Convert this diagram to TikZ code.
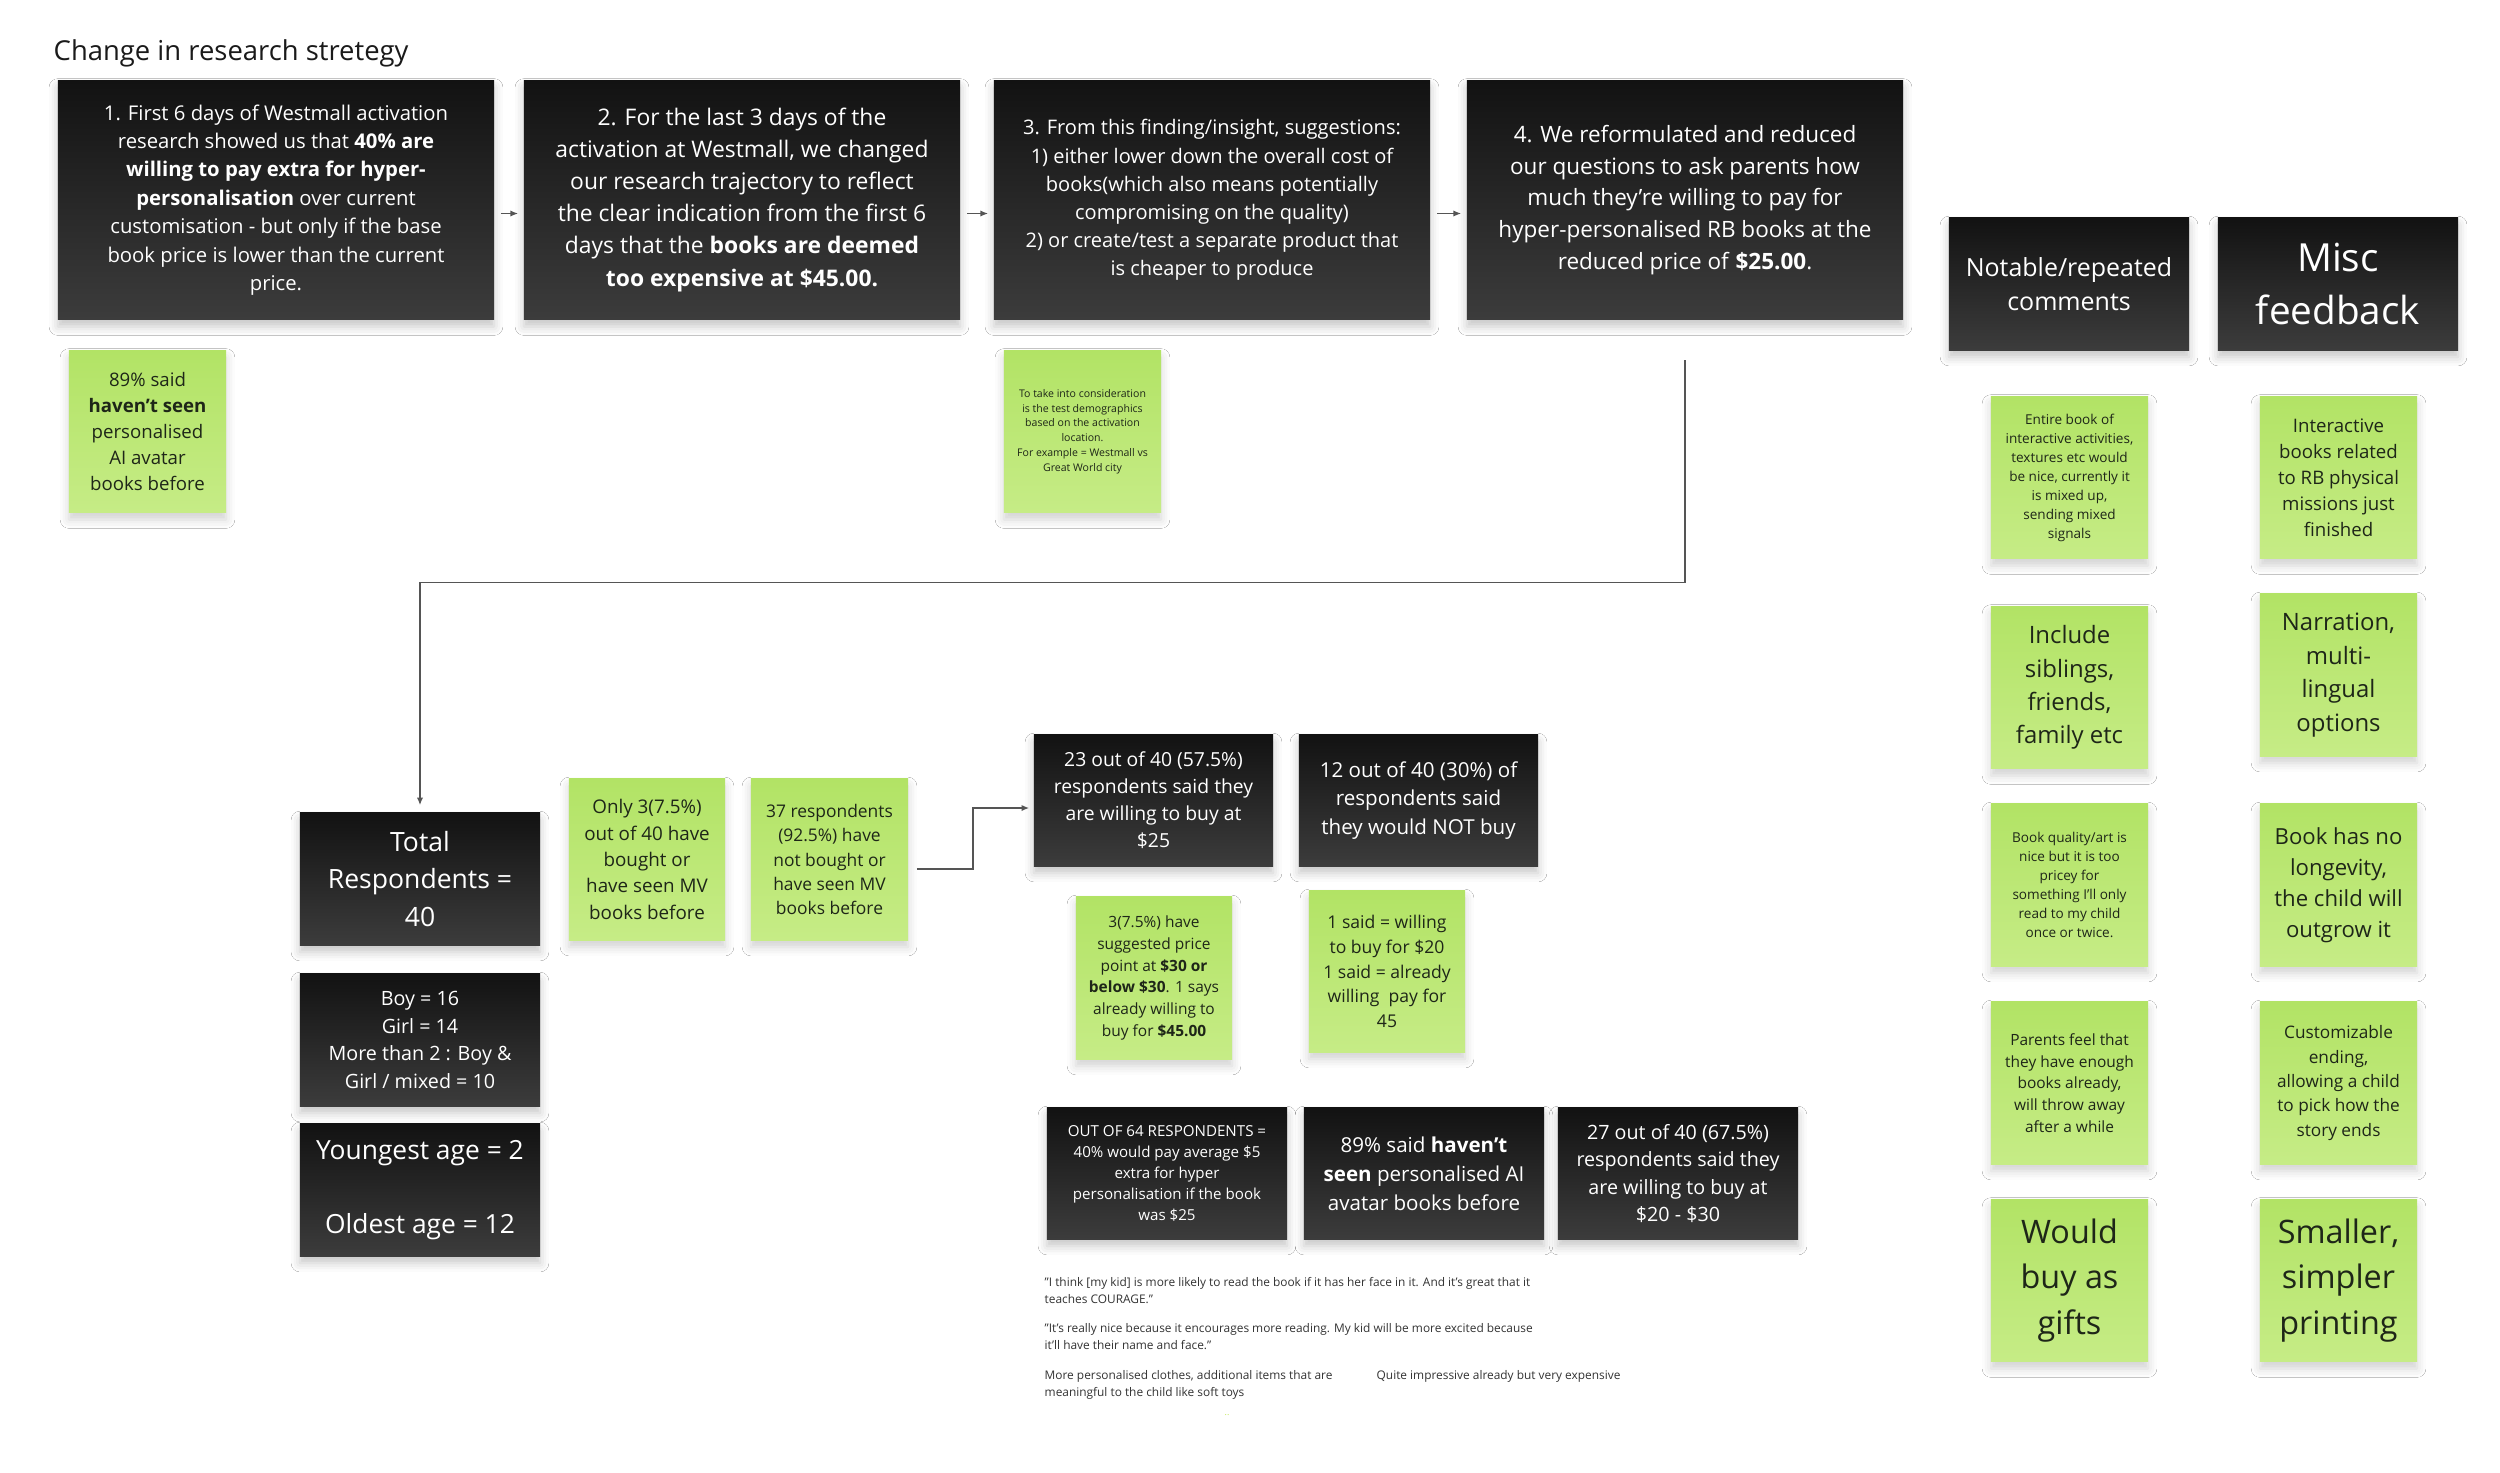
\documentclass[tikz,border=0pt]{standalone}
\usepackage{fontspec}
\setmainfont{Open Sans}
\usepackage{tikz}
\usetikzlibrary{arrows.meta, positioning, calc, shadows.blur}
\definecolor{mdarktop}{HTML}{121212}
\definecolor{mdarkbot}{HTML}{3C3C3C}
\definecolor{mstickytop}{HTML}{B2E365}
\definecolor{mstickybot}{HTML}{C6EC86}
\definecolor{mink}{HTML}{1E2618}
\definecolor{mline}{HTML}{555555}
\definecolor{mquote}{HTML}{333333}
\definecolor{mtitle}{HTML}{1A1A1A}
\newcommand{\txtsz}[2]{\fontsize{#1}{#2}\selectfont}
\tikzset{
  darkbox/.style={top color=mdarktop, bottom color=mdarkbot, text=white, align=center,
                  inner sep=0pt, blur shadow={shadow xshift=0pt, shadow yshift=-2pt,
                  shadow blur radius=2.5pt, shadow opacity=22}},
  widebox/.style={darkbox, minimum width=4.36cm, minimum height=2.39cm},
  smallbox/.style={darkbox, minimum width=2.40cm, minimum height=1.31cm},
  sticky/.style={top color=mstickytop, bottom color=mstickybot, text=mink, align=center,
                 inner sep=0pt, minimum width=1.57cm, minimum height=1.62cm,
                 blur shadow={shadow xshift=0pt, shadow yshift=-2pt,
                 shadow blur radius=2.5pt, shadow opacity=18}},
  conn/.style={->, mline, line width=0.45pt},
  quotetxt/.style={anchor=north west, align=left, text=mquote, inner sep=0pt,
                   font=\txtsz{3.38}{4.8}},
}

\begin{document}
\begin{tikzpicture}[x=0.01cm, y=-0.01cm, >={Latex[length=2.2pt, width=1.8pt]}]
  \useasboundingbox[fill=white] (0,0) rectangle (2500,1473);

  %% ── title ──
  \node[anchor=base west, inner sep=0pt, text=mtitle, font=\txtsz{7.8}{9.4}] (title)
    at (53,61) {Change in research stretegy};

  %% ── strategy steps ──
  \node[widebox, font=\txtsz{5.77}{8.08}] (s1) at (276,200)
    {1. First 6 days of Westmall activation\\research showed us that \textbf{40\% are}\\
     \textbf{willing to pay extra for hyper-}\\\textbf{personalisation} over current\\
     customisation - but only if the base\\book price is lower than the current\\price.};
  \node[widebox, font=\txtsz{6.5}{9.1}] (s2) at (742,200)
    {2. For the last 3 days of the\\activation at Westmall, we changed\\
     our research trajectory to reflect\\the clear indication from the first 6\\
     days that the \textbf{books are deemed}\\\textbf{too expensive at \$45.00.}};
  \node[widebox, font=\txtsz{5.7}{8.0}] (s3) at (1212,200)
    {3. From this finding/insight, suggestions:\\1) either lower down the overall cost of\\
     books(which also means potentially\\compromising on the quality)\\
     2) or create/test a separate product that\\is cheaper to produce};
  \node[widebox, font=\txtsz{6.4}{9.0}] (s4) at (1685,200)
    {4. We reformulated and reduced\\our questions to ask parents how\\
     much they're willing to pay for\\hyper-personalised RB books at the\\
     reduced price of \textbf{\$25.00}.};
  \foreach \a/\b in {s1/s2, s2/s3, s3/s4}
    \draw[conn, shorten <=0.06cm, shorten >=0.05cm]
      ([yshift=-0.135cm]\a.east) -- ([yshift=-0.135cm]\b.west);

  %% ── notes under steps ──
  \node[sticky, font=\txtsz{5.3}{7.4}] (n1) at (147.5,431.5)
    {89\% said\\\textbf{haven't seen}\\personalised\\AI avatar\\books before};
  \node[sticky, font=\txtsz{3.0}{4.2}] (n2) at (1082.5,431.5)
    {To take into consideration\\is the test demographics\\based on the activation\\
     location.\\For example = Westmall vs\\Great World city};

  %% ── respondents ──
  \node[smallbox, minimum height=1.32cm, font=\txtsz{7.55}{10.6}] (tot) at (420,879)
    {Total\\Respondents =\\40};
  \node[smallbox, minimum height=1.32cm, font=\txtsz{5.6}{7.8}] (gen) at (420,1040)
    {Boy = 16\\Girl = 14\\More than 2 : Boy \&\\Girl / mixed = 10};
  \node[smallbox, minimum height=1.32cm, font=\txtsz{7.5}{10.5}] (age) at (420,1190)
    {Youngest age = 2\\[10.5pt]Oldest age = 12};
  \draw[conn] ([yshift=-0.4cm]s4.south) -- ++(0,222) -| ([yshift=0.07cm]tot.north);

  \node[sticky, minimum width=1.56cm, minimum height=1.61cm, font=\txtsz{5.35}{7.5}]
    (only3) at (647,859.5) {Only 3(7.5\%)\\out of 40 have\\bought or\\have seen MV\\books before};
  \node[sticky, minimum width=1.57cm, minimum height=1.61cm, font=\txtsz{4.95}{6.9}]
    (t37) at (829.5,859.5) {37 respondents\\(92.5\%) have\\not bought or\\have seen MV\\books before};

  %% ── price answers ──
  \node[smallbox, minimum width=2.39cm, font=\txtsz{5.5}{7.7}] (w25) at (1153.5,800.5)
    {23 out of 40 (57.5\%)\\respondents said they\\are willing to buy at\\\$25};
  \node[smallbox, minimum width=2.39cm, font=\txtsz{5.85}{8.2}] (nobuy) at (1418.5,800.5)
    {12 out of 40 (30\%) of\\respondents said\\they would NOT buy};
  \draw[conn] ([xshift=0.08cm, yshift=-0.095cm]t37.east) -- ++(56,0)
    |- ([xshift=-0.04cm, yshift=-0.075cm]w25.west);

  \node[sticky, minimum width=1.56cm, font=\txtsz{4.4}{6.2}] (p30) at (1154,978)
    {3(7.5\%) have\\suggested price\\point at \textbf{\$30 or}\\\textbf{below \$30}. 1 says\\
     already willing to\\buy for \textbf{\$45.00}};
  \node[sticky, minimum width=1.56cm, minimum height=1.61cm, font=\txtsz{5.0}{7.0}]
    (said1) at (1387,971.5) {1 said = willing\\to buy for \$20\\1 said = already\\
     willing~ pay for\\45};

  \node[smallbox, font=\txtsz{4.3}{6.0}] (o64) at (1167,1173.5)
    {OUT OF 64 RESPONDENTS =\\40\% would pay average \$5\\extra for hyper\\
     personalisation if the book\\was \$25};
  \node[smallbox, font=\txtsz{5.85}{8.2}] (s89) at (1424,1173.5)
    {89\% said \textbf{haven't}\\\textbf{seen} personalised AI\\avatar books before};
  \node[smallbox, font=\txtsz{5.6}{7.8}] (w2030) at (1678,1173.5)
    {27 out of 40 (67.5\%)\\respondents said they\\are willing to buy at\\\$20 - \$30};

  %% ── quotes ──
  \node[quotetxt] (q1) at (1044,1277)
    {"I think [my kid] is more likely to read the book if it has her face in it. And it's great that it\\
     teaches COURAGE."};
  \node[quotetxt] (q2) at (1044,1323)
    {"It's really nice because it encourages more reading. My kid will be more excited because\\
     it'll have their name and face."};
  \node[quotetxt] (q3) at (1044,1370)
    {More personalised clothes, additional items that are\\meaningful to the child like soft toys};
  \node[quotetxt] (q4) at (1376,1370) {Quite impressive already but very expensive};
  \node[inner sep=0pt, text=mstickytop!80!yellow, font=\txtsz{2.5}{3}] (dots) at (1227,1415) {..};

  %% ── notable / repeated comments ──
  \node[smallbox, minimum height=1.32cm, font=\txtsz{7.1}{9.8}] (hnote) at (2069,284)
    {Notable/repeated\\comments};
  \node[sticky, font=\txtsz{3.86}{5.4}] (c1) at (2069.5,477.5)
    {Entire book of\\interactive activities,\\textures etc would\\be nice, currently it\\
     is mixed up,\\sending mixed\\signals};
  \node[sticky, font=\txtsz{6.8}{9.5}] (c2) at (2069.5,687.5)
    {Include\\siblings,\\friends,\\family etc};
  \node[sticky, font=\txtsz{3.86}{5.4}] (c3) at (2069.5,885)
    {Book quality/art is\\nice but it is too\\pricey for\\something I'll only\\
     read to my child\\once or twice.};
  \node[sticky, font=\txtsz{4.4}{6.2}] (c4) at (2069.5,1083)
    {Parents feel that\\they have enough\\books already,\\will throw away\\after a while};
  \node[sticky, font=\txtsz{9.2}{12.9}] (c5) at (2069.5,1280.5)
    {Would\\buy as\\gifts};

  %% ── misc feedback ──
  \node[smallbox, minimum height=1.32cm, font=\txtsz{11}{15.2}] (hmisc) at (2338,284)
    {Misc\\feedback};
  \node[sticky, font=\txtsz{5.3}{7.4}] (m1) at (2338.5,477.5)
    {Interactive\\books related\\to RB physical\\missions just\\finished};
  \node[sticky, font=\txtsz{6.8}{9.5}] (m2) at (2338.5,675)
    {Narration,\\multi-\\lingual\\options};
  \node[sticky, font=\txtsz{6.3}{8.8}] (m3) at (2338.5,885)
    {Book has no\\longevity,\\the child will\\outgrow it};
  \node[sticky, font=\txtsz{4.9}{6.9}] (m4) at (2338.5,1083)
    {Customizable\\ending,\\allowing a child\\to pick how the\\story ends};
  \node[sticky, font=\txtsz{9.2}{12.9}] (m5) at (2338.5,1280.5)
    {Smaller,\\simpler\\printing};
\end{tikzpicture}
\end{document}
